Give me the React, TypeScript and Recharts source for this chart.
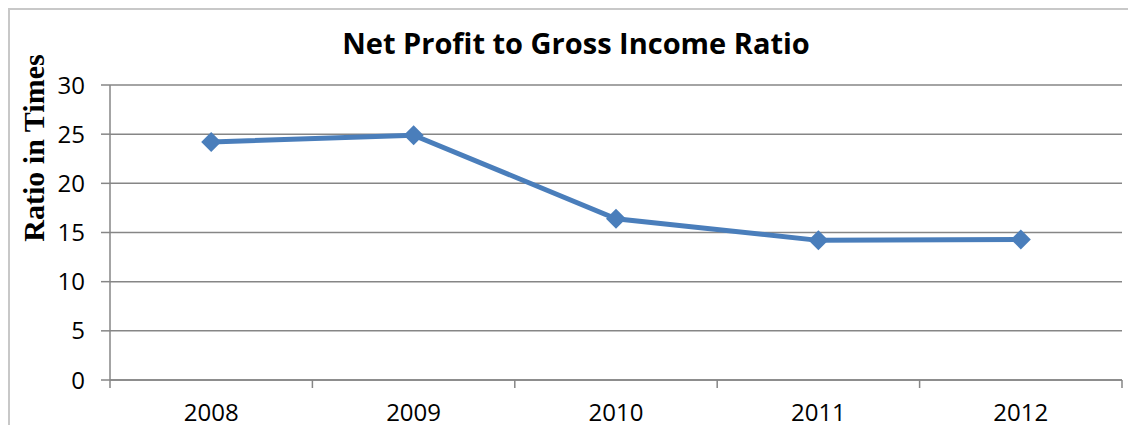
import React from 'react';
import { LineChart, Line, XAxis, YAxis, CartesianGrid } from 'recharts';

const years = ['2008', '2009', '2010', '2011', '2012'];
const ratios = [24.2, 24.9, 16.4, 14.2, 14.3];
const yTicks = [0, 5, 10, 15, 20, 25, 30];

const data = years.map((year, i) => ({ year, ratio: ratios[i] }));

const AXIS_COLOR = '#868686';
const LINE_COLOR = '#4a7ebb';
const FONT = '"Open Sans", "Liberation Sans", sans-serif';

// Excel style: tick marks sit on the category boundaries, labels in the middle
function YearTick(props: any) {
  const { x, y, payload, index, visibleTicksCount } = props;
  const half = payload && payload.offset ? payload.offset : 101;
  const isLast = index === visibleTicksCount - 1;
  return (
    <g>
      <line x1={x - half} y1={y} x2={x - half} y2={y + 8} stroke={AXIS_COLOR} strokeWidth={1.5} />
      {isLast && (
        <line x1={x + half} y1={y} x2={x + half} y2={y + 8} stroke={AXIS_COLOR} strokeWidth={1.5} />
      )}
      <text x={x} y={y + 41} textAnchor="middle" fill="#000" fontSize={24} fontFamily={FONT}>
        {payload.value}
      </text>
    </g>
  );
}

function Diamond(props: any) {
  const { cx, cy } = props;
  if (cx == null || cy == null) return null;
  const r = 10;
  return (
    <polygon
      points={`${cx},${cy - r} ${cx + r},${cy} ${cx},${cy + r} ${cx - r},${cy}`}
      fill={LINE_COLOR}
      stroke="none"
    />
  );
}

export default function App() {
  return (
    <div
      style={{
        position: 'relative',
        width: 1128,
        height: 417,
        borderLeft: '2px solid #c8c8c8',
        borderTop: '2px solid #c8c8c8',
        background: '#fff',
      }}
    >
      <div
        style={{
          position: 'absolute',
          left: 0,
          top: 13,
          width: 1132,
          textAlign: 'center',
          fontFamily: FONT,
          fontWeight: 700,
          fontSize: 29,
          color: '#000',
          lineHeight: '40px',
        }}
      >
        Net Profit to Gross Income Ratio
      </div>
      <div
        style={{
          position: 'absolute',
          left: 24,
          top: 138,
          width: 0,
          height: 0,
        }}
      >
        <div
          style={{
            position: 'absolute',
            left: 0,
            top: 0,
            transform: 'translate(-50%, -50%) rotate(-90deg)',
            whiteSpace: 'nowrap',
            fontFamily: '"Liberation Serif", "Times New Roman", serif',
            fontWeight: 700,
            fontSize: 30,
            color: '#000',
          }}
        >
          Ratio in Times
        </div>
      </div>
      <LineChart
        width={1126}
        height={415}
        data={data}
        margin={{ top: 75, right: 14, left: 0, bottom: 10 }}
      >
        <CartesianGrid vertical={false} stroke={AXIS_COLOR} strokeWidth={1.5} />
        <XAxis
          dataKey="year"
          scale="band"
          height={35}
          axisLine={{ stroke: AXIS_COLOR, strokeWidth: 1.5 }}
          tickLine={false}
          tickSize={0}
          tickMargin={0}
          tick={<YearTick />}
          interval={0}
        />
        <YAxis
          width={100}
          domain={[0, 30]}
          ticks={yTicks}
          interval={0}
          axisLine={{ stroke: AXIS_COLOR, strokeWidth: 1.5 }}
          tickLine={{ stroke: AXIS_COLOR, strokeWidth: 1.5 }}
          tickSize={9}
          tickMargin={16}
          tick={{ fill: '#000', fontSize: 24, fontFamily: FONT }}
        />
        <Line
          type="linear"
          dataKey="ratio"
          stroke={LINE_COLOR}
          strokeWidth={5}
          dot={<Diamond />}
          activeDot={false}
          isAnimationActive={false}
        />
      </LineChart>
    </div>
  );
}
